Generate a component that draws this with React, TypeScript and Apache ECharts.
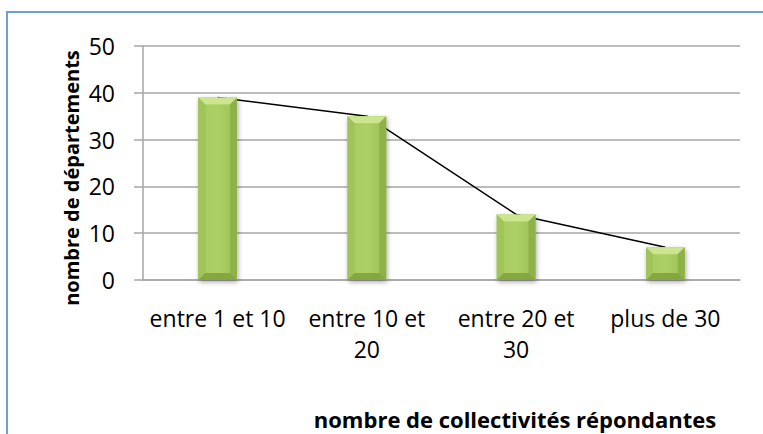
import React, { useEffect, useRef } from "react";
import * as echarts from "echarts";

const categories = ["entre 1 et 10", "entre 10 et\n20", "entre 20 et\n30", "plus de 30"];
const values = [39, 35, 14, 7];
const yTicks = { min: 0, max: 50, interval: 10 };
const yTitle = "nombre de départements";
const xTitle = "nombre de collectivités répondantes";

const FONT = "'Open Sans', 'Noto Sans', sans-serif";

export default function App() {
  const ref = useRef<HTMLDivElement>(null);
  useEffect(() => {
    if (!ref.current) return;
    const chart = echarts.init(ref.current, null, { renderer: "svg" });
    const renderItem = (params: any, api: any) => {
      const top = api.coord([api.value(0), api.value(1)]);
      const base = api.coord([api.value(0), 0]);
      const w = api.size([1, 0])[0] * 0.26;
      const l = top[0] - w / 2;
      const r = top[0] + w / 2;
      const t = top[1];
      const b = base[1];
      const bv = Math.min(7, (b - t) / 2);
      return {
        type: "group",
        children: [
          {
            type: "rect",
            shape: { x: l, y: t, width: w, height: b - t },
            style: {
              fill: "#9dc255",
              shadowBlur: 5,
              shadowOffsetY: 2,
              shadowOffsetX: 1,
              shadowColor: "rgba(0,0,0,0.35)",
            },
          },
          {
            type: "rect",
            shape: { x: l + bv, y: t + bv, width: w - 2 * bv, height: b - t - 2 * bv },
            style: {
              fill: new echarts.graphic.LinearGradient(0, 0, 1, 0, [
                { offset: 0, color: "#a9cd62" },
                { offset: 0.5, color: "#acd064" },
                { offset: 1, color: "#a2c65b" },
              ]),
            },
          },
          {
            type: "polygon",
            shape: { points: [[l, t], [r, t], [r - bv, t + bv], [l + bv, t + bv]] },
            style: { fill: "#cbe68e" },
          },
          {
            type: "polygon",
            shape: { points: [[l, t], [l + bv, t + bv], [l + bv, b - bv], [l, b]] },
            style: { fill: "#a0c45a" },
          },
          {
            type: "polygon",
            shape: { points: [[r, t], [r, b], [r - bv, b - bv], [r - bv, t + bv]] },
            style: { fill: "#8eb247" },
          },
          {
            type: "polygon",
            shape: { points: [[l, b], [l + bv, b - bv], [r - bv, b - bv], [r, b]] },
            style: { fill: "#86a641" },
          },
        ],
      };
    };
    chart.setOption({
      animation: false,
      grid: { left: 143, right: 23, top: 46, bottom: 154, containLabel: false },
      xAxis: {
        type: "category",
        data: categories,
        axisLine: { show: true, lineStyle: { color: "#a6a6a6", width: 1.5 } },
        axisTick: { show: false },
        axisLabel: {
          color: "#000",
          fontFamily: FONT,
          fontSize: 23,
          lineHeight: 31,
          margin: 22,
          interval: 0,
        },
      },
      yAxis: {
        type: "value",
        min: yTicks.min,
        max: yTicks.max,
        interval: yTicks.interval,
        axisLine: { show: true, lineStyle: { color: "#a6a6a6", width: 1.5 } },
        axisTick: { show: true, length: 9, lineStyle: { color: "#a6a6a6", width: 1.5 } },
        splitLine: { show: true, lineStyle: { color: "#a6a6a6", width: 1.5 } },
        axisLabel: { color: "#000", fontFamily: FONT, fontSize: 23, margin: 28 },
      },
      graphic: [
        {
          type: "rect",
          silent: true,
          shape: { x: 7, y: 12, width: 900, height: 600 },
          style: { fill: "none", stroke: "#6f9fd8", lineWidth: 2 },
        },
        {
          type: "text",
          x: 71,
          y: 178,
          rotation: Math.PI / 2,
          style: {
            text: yTitle,
            font: `bold 20px ${FONT}`,
            fill: "#000",
            align: "center",
            verticalAlign: "middle",
          },
        },
        {
          type: "text",
          x: 515,
          y: 419,
          style: {
            text: xTitle,
            font: `bold 22px ${FONT}`,
            fill: "#000",
            align: "center",
            verticalAlign: "middle",
          },
        },
      ],
      series: [
        {
          type: "line",
          data: values,
          symbol: "none",
          z: 2,
          lineStyle: { color: "#000", width: 1.5 },
        },
        {
          type: "custom",
          data: values.map((v, i) => [i, v]),
          encode: { x: 0, y: 1 },
          z: 3,
          renderItem,
        },
      ],
    });
    return () => chart.dispose();
  }, []);
  return (
    <div
      ref={ref}
      style={{ position: "absolute", left: 0, top: 0, width: 763, height: 434 }}
    />
  );
}
